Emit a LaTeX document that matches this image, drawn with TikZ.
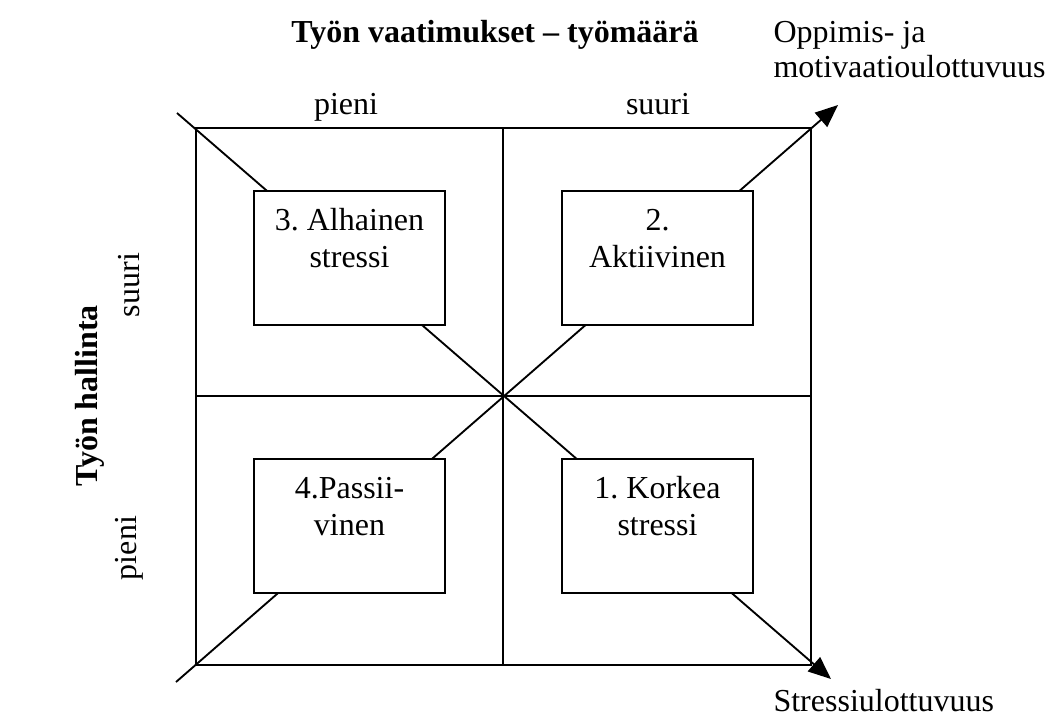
\documentclass[tikz,border=0pt]{standalone}
\usepackage{fontspec}
\setmainfont{Liberation Serif}
\usetikzlibrary{arrows.meta}
\frenchspacing
\begin{document}
\begin{tikzpicture}[x=0.375pt,y=-0.375pt,
  line/.style={line width=0.7pt},
  arr/.style={line width=0.7pt,-{Triangle[length=8.5pt,width=7pt]}},
  quad/.style={draw,line width=0.7pt,fill=white,minimum width=71.6pt,minimum height=50.2pt,inner sep=0pt},
  txt/.style={font=\fontsize{12}{13.8}\selectfont,inner sep=0pt,anchor=base},
  rtxt/.style={font=\fontsize{12}{13.8}\selectfont,inner sep=0pt,rotate=90,anchor=center}]
\useasboundingbox (0,0) rectangle (1057,722);
% outer square and cross
\coordinate (tl) at (196,128);
\coordinate (tr) at (811,128);
\coordinate (br) at (811,665);
\coordinate (bl) at (196,665);
\coordinate (tm) at (503,128);
\coordinate (bm) at (503,665);
\coordinate (lm) at (196,396);
\coordinate (rm) at (811,396);
\draw[line] (tl) -- (tr) -- (br) -- (bl) -- cycle;
\draw[line] (tm) -- (bm);
\draw[line] (lm) -- (rm);
% diagonals
\coordinate (d1s) at (177,113);
\coordinate (d1e) at (831,679);
\coordinate (d2s) at (176,682);
\coordinate (d2e) at (838,105);
\draw[arr] (d1s) -- (d1e);
\draw[arr] (d2s) -- (d2e);
% boxes
\node[quad] (b3) at (349.5,258) {};
\node[quad] (b2) at (657.5,258) {};
\node[quad] (b4) at (349.5,526) {};
\node[quad] (b1) at (657.5,526) {};
\node[txt] (b3a) at (349.5,230) {3. Alhainen};
\node[txt] (b3b) at (349.5,267) {stressi};
\node[txt] (b2a) at (657.5,230) {2.};
\node[txt] (b2b) at (657.5,267) {Aktiivinen};
\node[txt] (b4a) at (349.5,498) {4.Passii-};
\node[txt] (b4b) at (349.5,535) {vinen};
\node[txt] (b1a) at (657.5,498) {1. Korkea};
\node[txt] (b1b) at (657.5,535) {stressi};
% labels
\node[txt,font=\fontsize{12}{13.8}\selectfont\bfseries] (title) at (495,42) {Työn vaatimukset – työmäärä};
\node[txt,anchor=base west] (opp1) at (773,42) {Oppimis- ja};
\node[txt,anchor=base west] (opp2) at (773,77) {motivaatioulottuvuus};
\node[txt] (xp) at (346,114) {pieni};
\node[txt] (xs) at (658,114) {suuri};
\node[rtxt,font=\fontsize{12}{13.8}\selectfont\bfseries] (yt) at (90,396) {Työn hallinta};
\node[rtxt] (ys) at (129,285) {suuri};
\node[rtxt] (yp) at (129,548) {pieni};
\node[txt,anchor=base west] (str) at (773,711) {Stressiulottuvuus};
\end{tikzpicture}
\end{document}
